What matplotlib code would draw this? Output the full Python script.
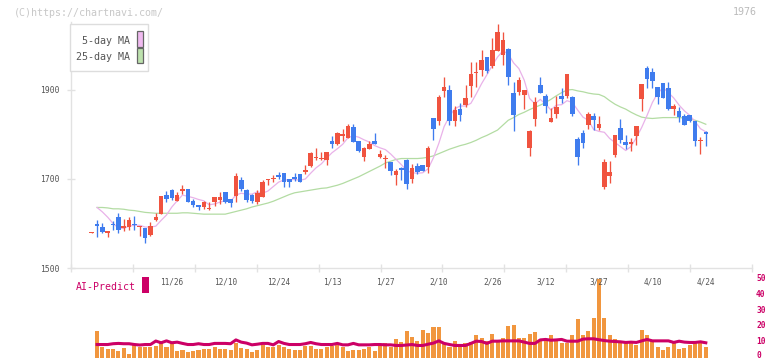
import matplotlib
matplotlib.use("Agg")
import matplotlib.pyplot as plt
from matplotlib.patches import Rectangle
import numpy as np

# ---- data ----
dates = ["11/26", "12/10", "12/24", "1/13", "1/27", "2/10", "2/26", "3/12", "3/27", "4/10", "4/24"]
date_pos = [15, 25, 35, 45, 55, 65, 75, 85, 95, 105, 115]

opens = [1579, 1599, 1592, 1579, 1599, 1615, 1590, 1593, 1599, 1592,
         1590, 1574, 1608, 1621, 1664, 1676, 1650, 1674, 1677, 1651,
         1642, 1636, 1633, 1649, 1653, 1671, 1656, 1662, 1698, 1675,
         1663, 1649, 1660, 1698, 1701, 1710, 1713, 1701, 1705, 1711,
         1716, 1729, 1747, 1744, 1743, 1785, 1779, 1797, 1793, 1817,
         1785, 1749, 1768, 1785, 1750, 1744, 1738, 1710, 1724, 1743,
         1701, 1729, 1731, 1728, 1837, 1831, 1898, 1900, 1830, 1857,
         1866, 1909, 1938, 1945, 1974, 1955, 1988, 1979, 1992, 1894,
         1896, 1889, 1770, 1835, 1911, 1886, 1829, 1846, 1886, 1886,
         1884, 1790, 1803, 1821, 1842, 1815, 1682, 1707, 1754, 1815,
         1783, 1779, 1797, 1880, 1949, 1940, 1907, 1916, 1904, 1857,
         1853, 1841, 1844, 1830, 1786, 1806]
highs = [1581, 1608, 1600, 1584, 1605, 1623, 1609, 1614, 1617, 1595,
         1590, 1603, 1624, 1662, 1674, 1678, 1671, 1686, 1678, 1654,
         1642, 1650, 1649, 1660, 1671, 1671, 1656, 1713, 1705, 1677,
         1666, 1675, 1698, 1701, 1708, 1716, 1713, 1701, 1713, 1712,
         1731, 1760, 1770, 1760, 1761, 1797, 1806, 1812, 1824, 1824,
         1785, 1773, 1786, 1803, 1765, 1753, 1738, 1722, 1728, 1745,
         1733, 1737, 1732, 1774, 1838, 1889, 1929, 1911, 1864, 1870,
         1911, 1963, 1964, 1991, 1975, 2016, 2048, 2030, 1994, 1919,
         1929, 1900, 1810, 1884, 1929, 1891, 1860, 1886, 1904, 1936,
         1886, 1795, 1810, 1851, 1848, 1842, 1744, 1741, 1799, 1835,
         1799, 1793, 1819, 1913, 1954, 1949, 1907, 1916, 1918, 1868,
         1862, 1846, 1844, 1830, 1794, 1808]
lows = [1579, 1570, 1579, 1570, 1585, 1579, 1584, 1585, 1585, 1572,
        1557, 1572, 1606, 1621, 1649, 1653, 1650, 1666, 1649, 1636,
        1630, 1633, 1630, 1639, 1643, 1645, 1638, 1649, 1674, 1648,
        1645, 1644, 1660, 1687, 1694, 1701, 1683, 1683, 1695, 1693,
        1712, 1728, 1743, 1742, 1732, 1769, 1776, 1786, 1793, 1784,
        1760, 1741, 1767, 1779, 1747, 1724, 1709, 1687, 1698, 1678,
        1692, 1711, 1717, 1714, 1788, 1822, 1885, 1822, 1818, 1831,
        1862, 1885, 1907, 1931, 1939, 1949, 1988, 1956, 1911, 1808,
        1889, 1857, 1752, 1818, 1894, 1849, 1829, 1837, 1871, 1882,
        1842, 1732, 1770, 1812, 1810, 1810, 1678, 1692, 1750, 1782,
        1768, 1763, 1776, 1853, 1904, 1904, 1868, 1883, 1855, 1844,
        1829, 1822, 1829, 1775, 1757, 1775]
closes = [1581, 1594, 1582, 1584, 1597, 1586, 1594, 1608, 1597, 1594,
          1568, 1594, 1615, 1662, 1656, 1658, 1664, 1678, 1649, 1642,
          1636, 1649, 1635, 1660, 1660, 1649, 1645, 1707, 1677, 1653,
          1650, 1669, 1693, 1699, 1702, 1704, 1693, 1693, 1701, 1693,
          1721, 1759, 1749, 1746, 1761, 1779, 1803, 1800, 1820, 1784,
          1764, 1770, 1779, 1779, 1756, 1748, 1719, 1717, 1721, 1689,
          1725, 1715, 1718, 1770, 1813, 1884, 1907, 1831, 1855, 1844,
          1881, 1937, 1940, 1967, 1943, 1990, 2030, 2012, 1930, 1844,
          1922, 1900, 1808, 1873, 1894, 1864, 1837, 1862, 1880, 1936,
          1846, 1750, 1782, 1846, 1833, 1824, 1738, 1716, 1799, 1788,
          1777, 1783, 1819, 1913, 1925, 1921, 1885, 1883, 1857, 1864,
          1840, 1822, 1831, 1786, 1788, 1802]

# moving averages, volume and AI line start at the 2nd candle
ma5 = [1636, 1626, 1614, 1600, 1590, 1589, 1594, 1596, 1596, 1592,
       1592, 1594, 1607, 1619, 1637, 1651, 1664, 1661, 1658, 1654,
       1651, 1642, 1644, 1648, 1651, 1650, 1664, 1668, 1666, 1666,
       1671, 1668, 1673, 1683, 1693, 1698, 1698, 1699, 1697, 1700,
       1713, 1725, 1734, 1747, 1759, 1768, 1778, 1793, 1797, 1794,
       1788, 1783, 1775, 1770, 1766, 1756, 1744, 1732, 1719, 1714,
       1713, 1714, 1723, 1748, 1780, 1818, 1841, 1858, 1864, 1864,
       1870, 1891, 1914, 1934, 1955, 1974, 1988, 1981, 1961, 1948,
       1922, 1881, 1869, 1879, 1868, 1855, 1866, 1867, 1876, 1872,
       1855, 1839, 1832, 1811, 1807, 1805, 1791, 1782, 1773, 1764,
       1773, 1793, 1816, 1843, 1872, 1893, 1905, 1894, 1882, 1866,
       1853, 1843, 1829, 1813, 1806]
ma25 = [1636, 1636, 1635, 1633, 1633, 1632, 1630, 1629, 1627, 1625,
        1624, 1623, 1623, 1623, 1623, 1623, 1624, 1624, 1623, 1622,
        1621, 1621, 1621, 1621, 1621, 1624, 1627, 1630, 1633, 1637,
        1640, 1643, 1646, 1650, 1655, 1660, 1665, 1669, 1671, 1673,
        1675, 1677, 1679, 1680, 1683, 1686, 1690, 1695, 1700, 1705,
        1711, 1717, 1723, 1729, 1736, 1740, 1744, 1746, 1746, 1746,
        1746, 1747, 1749, 1752, 1757, 1762, 1767, 1771, 1775, 1778,
        1782, 1787, 1793, 1798, 1804, 1810, 1821, 1832, 1838, 1845,
        1850, 1856, 1861, 1866, 1872, 1879, 1887, 1894, 1900, 1901,
        1898, 1896, 1893, 1891, 1890, 1885, 1876, 1868, 1862, 1857,
        1850, 1844, 1839, 1837, 1836, 1837, 1838, 1838, 1838, 1838,
        1837, 1835, 1832, 1828, 1823]
volume = [16.5, 6.7, 5.2, 5.2, 4.0, 5.8, 2.1, 7.7, 6.9, 6.5,
          6.5, 7.3, 9.8, 6.5, 9.4, 4.0, 4.6, 3.3, 4.0, 4.6,
          5.2, 5.2, 6.5, 5.2, 5.2, 4.6, 9.4, 6.0, 5.2, 3.3,
          4.6, 7.7, 6.5, 6.5, 8.1, 6.5, 5.2, 4.6, 4.6, 7.1,
          7.1, 5.2, 5.2, 6.5, 7.1, 7.7, 6.5, 4.0, 4.6, 4.6,
          5.2, 6.5, 4.0, 8.5, 9.4, 6.9, 11.5, 10.2, 16.7, 13.3,
          10.8, 17.7, 15.8, 19.6, 19.6, 9.4, 6.9, 10.8, 6.9, 9.4,
          9.8, 14.0, 12.1, 10.6, 15.2, 10.4, 12.1, 20.2, 20.8, 12.1,
          12.1, 15.2, 16.0, 11.0, 10.8, 14.6, 10.8, 9.2, 9.2, 14.0,
          24.4, 14.0, 16.7, 25.0, 49.6, 25.0, 14.0, 11.9, 10.8, 9.8,
          9.4, 8.3, 17.7, 14.6, 11.0, 6.9, 4.8, 6.9, 9.4, 5.6,
          6.0, 8.3, 9.4, 9.0, 6.9]
ai_predict = [8.3, 8.3, 8.3, 8.8, 9.0, 8.8, 8.8, 8.3, 8.0, 8.3,
              8.3, 10.5, 9.4, 10.6, 9.4, 9.8, 9.0, 8.3, 8.3, 8.8,
              8.3, 8.3, 9.0, 9.0, 9.0, 8.8, 11.2, 9.8, 9.2, 8.1,
              8.5, 9.0, 9.0, 8.1, 10.2, 9.0, 8.3, 8.3, 8.3, 8.8,
              9.6, 8.8, 8.3, 8.3, 8.3, 9.0, 8.1, 8.1, 9.0, 8.1,
              8.1, 8.1, 8.3, 8.3, 8.1, 8.1, 7.7, 7.7, 8.0, 8.3,
              7.7, 7.7, 8.5, 9.2, 10.6, 9.0, 8.3, 7.7, 7.7, 7.7,
              9.0, 10.4, 10.2, 9.0, 10.4, 10.4, 10.6, 10.6, 10.6, 10.6,
              9.8, 9.0, 9.0, 11.2, 11.5, 11.0, 11.2, 11.5, 10.4, 10.4,
              10.4, 11.7, 11.9, 11.9, 11.3, 10.8, 10.4, 10.2, 10.0, 9.6,
              9.8, 9.6, 10.6, 11.5, 10.6, 10.6, 10.6, 10.6, 9.6, 10.4,
              9.8, 9.6, 9.6, 10.0, 9.4]
vol_ticks = [0, 10, 20, 30, 40, 50]

# ---- styling ----
W, H = 772, 361
RED = '#f0533f'
BLUE = '#3f7cee'
PINK = '#e9b2e9'
GREEN = '#b3dca3'
CRIMSON = '#cc0066'
ORANGE = '#f1963e'
AXIS = '#e2e2e2'
TEXT = '#555555'
MONO = 'DejaVu Sans Mono'


def fx(x):
    return x / W


def fy(y):
    return 1 - y / H


fig = plt.figure(figsize=(W / 100, H / 100), dpi=100)

# volume panel (drawn first, transparent so the date labels stay visible)
vax = fig.add_axes([fx(71), fy(357.7), fx(752) - fx(71), fy(278.3) - fy(357.7)])
vax.patch.set_visible(False)
xmin, xmax = -3.88, 123.65
vax.set_xlim(xmin, xmax)
vax.set_ylim(0, 50)
idx = np.arange(len(opens))
vax.bar(idx[1:], volume, width=0.76, color=ORANGE, linewidth=0)
vax.plot(idx[1:], ai_predict, color=CRIMSON, lw=2.2)
for s in vax.spines.values():
    s.set_visible(False)
vax.set_xticks([])
vax.set_yticks([])
# right-hand volume scale; the "0" is nudged up a little to stay inside
for v in vol_ticks:
    vax.text(1.006, max(v, 1.3), str(v), transform=vax.get_yaxis_transform(),
             ha='left', va='center', fontsize=5.7, color=CRIMSON,
             family=MONO, fontweight='bold')

# price panel
ax = fig.add_axes([fx(71), fy(268), fx(752) - fx(71), fy(22) - fy(268)])
ax.patch.set_visible(False)
ax.set_xlim(xmin, xmax)
ax.set_ylim(1500, 2052.8)

o = np.array(opens)
c = np.array(closes)
colors = np.where(c >= o, RED, BLUE)

ax.plot(idx[1:], ma25, color=GREEN, lw=0.9, zorder=1)
ax.plot(idx[1:], ma5, color=PINK, lw=0.9, zorder=1)
ax.vlines(idx, lows, highs, colors=colors, lw=0.95, zorder=2)
body_h = np.maximum(np.abs(c - o), 2.2)
ax.bar(idx, body_h, bottom=np.minimum(o, c), width=0.86, color=colors,
       linewidth=0, zorder=3)

for s in ['top', 'right']:
    ax.spines[s].set_visible(False)
for s in ['left', 'bottom']:
    ax.spines[s].set_color(AXIS)
    ax.spines[s].set_linewidth(1.0)

ax.set_yticks([1500, 1700, 1900])
ax.set_yticklabels(['1500', '1700', '1900'], fontsize=5.8, color=TEXT,
                   family=MONO)
ax.tick_params(axis='y', direction='inout', length=6, color=AXIS,
               width=1.0, pad=5.2)
ax.set_xticks(np.linspace(xmin, xmax, 12))
ax.set_xticklabels([])
ax.tick_params(axis='x', direction='inout', length=5.8, color=AXIS,
               width=1.0)
for p, d in zip(date_pos, dates):
    ax.text(p, -0.057, d, transform=ax.get_xaxis_transform(), ha='center',
            va='center', fontsize=5.6, color=TEXT, family=MONO)

# legend box
fig.add_artist(Rectangle((fx(70.3), fy(71.3)), 78 / W, 47.3 / H,
                         transform=fig.transFigure, facecolor='white',
                         edgecolor='#dddddd', lw=1.0, zorder=5))
fig.add_artist(Rectangle((fx(136.5), fy(46.5)), 6 / W, 15.3 / H,
                         transform=fig.transFigure, facecolor='#f0baf0',
                         edgecolor='#666666', lw=0.9, zorder=6))
fig.add_artist(Rectangle((fx(136.5), fy(63.3)), 6 / W, 15 / H,
                         transform=fig.transFigure, facecolor='#bde2ae',
                         edgecolor='#666666', lw=0.9, zorder=6))
fig.text(fx(129.5), fy(41), '5-day MA', ha='right', va='center',
         fontsize=7.2, color=TEXT, family=MONO, zorder=7)
fig.text(fx(129.5), fy(56.7), '25-day MA', ha='right', va='center',
         fontsize=7.2, color=TEXT, family=MONO, zorder=7)

# header texts
fig.text(fx(14), fy(12.5), '(C)https://chartnavi.com/', ha='left',
         va='center', fontsize=7.2, color='#c8c8c8', family=MONO)
fig.text(fx(757), fy(12), '1976', ha='right', va='center', fontsize=7.2,
         color='#bbbbbb', family=MONO)

# AI-Predict label
fig.text(fx(76), fy(286.5), 'AI-Predict', ha='left', va='center',
         fontsize=7.1, color=CRIMSON, family=MONO)
fig.add_artist(Rectangle((fx(142), fy(292.7)), 6.7 / W, 15.4 / H,
                         transform=fig.transFigure, facecolor=CRIMSON,
                         edgecolor='none'))

fig.savefig('out.png', dpi=100)
